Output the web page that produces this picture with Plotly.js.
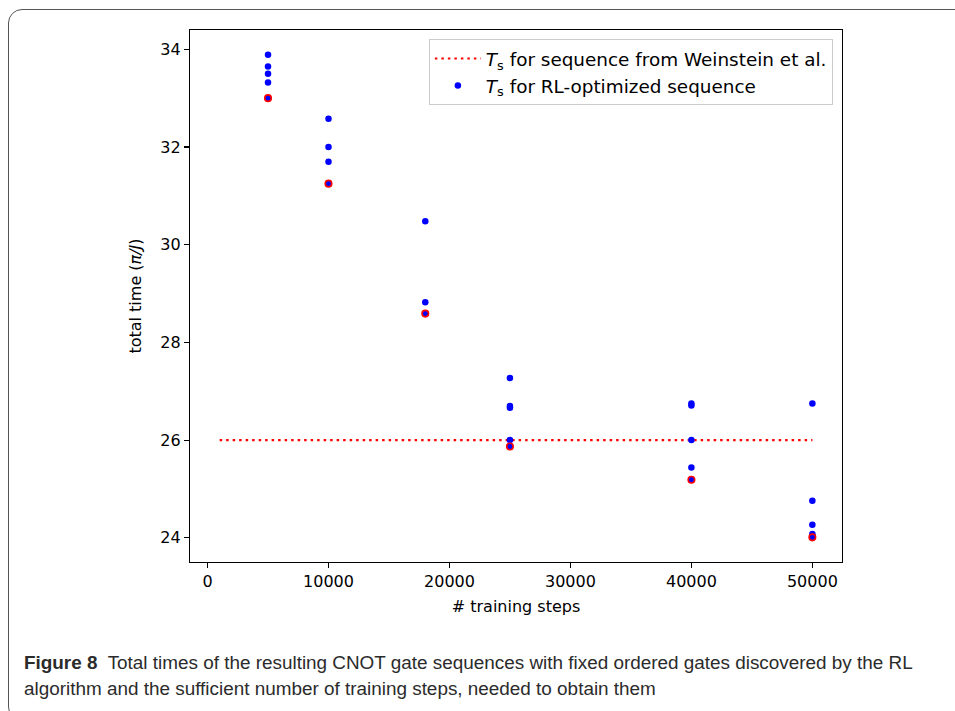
<!DOCTYPE html>
<html>
<head>
<meta charset="utf-8">
<script src="https://cdn.plot.ly/plotly-3.0.1.min.js"></script>
<style>
  html, body { margin: 0; padding: 0; background: #fff; overflow: hidden; }
  #frame { position: absolute; left: 8px; top: 9px; width: 1100px; height: 712px;
           border: 1.3px solid #555; border-radius: 14px; box-sizing: border-box; }
  #chart { position: absolute; left: 0; top: 0; width: 955px; height: 711px; }
</style>
</head>
<body>
<div id="frame"></div>
<div id="chart"></div>
<script>
// Training steps and total times (units of pi/J)
const rlSteps = [5000, 5000, 5000, 5000, 5000,
                 10000, 10000, 10000, 10000,
                 18000, 18000, 18000,
                 25000, 25000, 25000, 25000, 25000,
                 40000, 40000, 40000, 40000, 40000,
                 50000, 50000, 50000, 50000, 50000, 50000];
const rlTimes = [33.89, 33.65, 33.50, 33.32, 33.00,
                 32.58, 32.00, 31.70, 31.25,
                 30.48, 28.82, 28.59,
                 27.27, 26.70, 26.66, 26.00, 25.87,
                 26.75, 26.71, 26.00, 25.44, 25.19,
                 26.75, 24.76, 24.27, 24.08, 24.04, 24.01];
// Best (minimum) result per training budget
const bestSteps = [5000, 10000, 18000, 25000, 40000, 50000];
const bestTimes = [33.00, 31.25, 28.59, 25.87, 25.19, 24.01];
// Reference sequence from Weinstein et al.
const refSteps = [1000, 50000];
const refTimes = [26, 26];

const xTicks = [0, 10000, 20000, 30000, 40000, 50000];
const yTicks = [24, 26, 28, 30, 32, 34];

const font = {family: 'DejaVu Sans', size: 16, color: '#000'};
const legendFont = {family: 'DejaVu Sans', size: 18.4, color: '#000'};
const captionFont = {family: 'Liberation Sans', size: 18.9, color: '#2b2b2b'};

const traces = [
  {
    x: refSteps, y: refTimes, mode: 'lines', type: 'scatter',
    name: '<i>T</i><sub>s</sub> for sequence from Weinstein et al.',
    line: {color: 'red', width: 2.2, dash: '2.5px,4px'}
  },
  {
    x: rlSteps, y: rlTimes, mode: 'markers', type: 'scatter',
    name: '<i>T</i><sub>s</sub> for RL-optimized sequence',
    marker: {color: 'blue', size: 6.5}
  },
  {
    x: bestSteps, y: bestTimes, mode: 'markers', type: 'scatter',
    showlegend: false,
    marker: {color: 'blue', size: 6.5, line: {color: 'red', width: 1.6}}
  }
];

const axisCommon = {
  showline: true, mirror: true, linecolor: '#000', linewidth: 1.2,
  ticks: 'outside', ticklen: 5, tickwidth: 1.2, tickcolor: '#000',
  showgrid: false, zeroline: false, tickfont: font
};

const layout = {
  width: 955, height: 711,
  margin: {l: 190, r: 113, t: 30, b: 149},
  paper_bgcolor: 'rgba(0,0,0,0)', plot_bgcolor: '#fff',
  font: font,
  showlegend: true,
  legend: {
    x: 0.986, xanchor: 'right', y: 0.983, yanchor: 'top',
    bgcolor: 'rgba(255,255,255,0.9)', bordercolor: '#cccccc', borderwidth: 1,
    font: legendFont, itemwidth: 46
  },
  xaxis: Object.assign({}, axisCommon, {
    range: [-1450, 52450], tickvals: xTicks, ticktext: xTicks.map(String),
    title: {text: '# training steps', font: font, standoff: 10}
  }),
  yaxis: Object.assign({}, axisCommon, {
    range: [23.505, 34.395], tickvals: yTicks, ticktext: yTicks.map(String),
    title: {text: 'total time (<i>π/J</i>)', font: font, standoff: 14}
  }),
  annotations: [
    {
      xref: 'paper', yref: 'paper', x: -0.2577, y: -0.188,
      xanchor: 'left', yanchor: 'middle', showarrow: false, align: 'left',
      font: captionFont,
      text: '<b>Figure 8</b>  Total times of the resulting CNOT gate sequences with fixed ordered gates discovered by the RL'
    },
    {
      xref: 'paper', yref: 'paper', x: -0.2577, y: -0.2387,
      xanchor: 'left', yanchor: 'middle', showarrow: false, align: 'left',
      font: captionFont,
      text: 'algorithm and the sufficient number of training steps, needed to obtain them'
    }
  ]
};

Plotly.newPlot('chart', traces, layout, {displayModeBar: false, staticPlot: true});
</script>
</body>
</html>
